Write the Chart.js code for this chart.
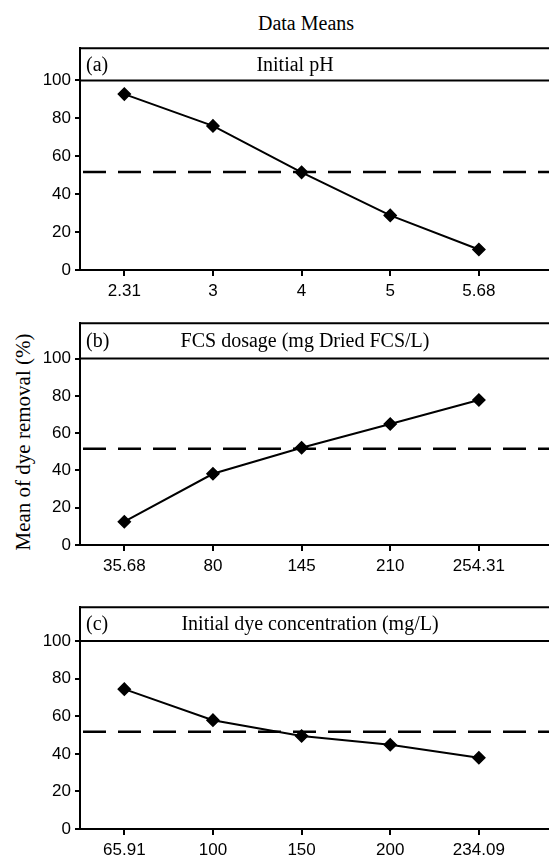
<!DOCTYPE html>
<html>
<head>
<meta charset="utf-8">
<script src="https://cdn.jsdelivr.net/npm/chart.js@4"></script>
<style>
  body { margin: 0; background: #fff; }
  #page { position: relative; width: 549px; height: 856px; overflow: hidden; background: #fff; }
  .panel { position: absolute; left: 0; }
  .serif { position: absolute; font-family: "Liberation Serif", "Times New Roman", serif; color: #000; white-space: nowrap; }
  #mainTitle { left: 306px; top: 23px; font-size: 20px; transform: translate(-50%, -50%); }
  #yTitle { left: 23px; top: 442px; font-size: 21px; transform: translate(-50%, -50%) rotate(-90deg); }
</style>
</head>
<body>
<div id="page">
  <div id="mainTitle" class="serif">Data Means</div>
  <div id="yTitle" class="serif">Mean of dye removal (%)</div>
  <div class="panel" style="top:34px"><canvas id="chartA" width="575" height="276"></canvas></div>
  <div class="panel" style="top:309px"><canvas id="chartB" width="575" height="276"></canvas></div>
  <div class="panel" style="top:593px"><canvas id="chartC" width="575" height="276"></canvas></div>
</div>
<script>
// levels of each factor and the mean dye removal (%) at each level
const phLevels = ["2.31", "3", "4", "5", "5.68"];
const phMeans = [92.8, 76.0, 51.5, 28.8, 10.8];

const dosageLevels = ["35.68", "80", "145", "210", "254.31"];
const dosageMeans = [12.5, 38.2, 52.2, 64.9, 77.8];

const dyeLevels = ["65.91", "100", "150", "200", "234.09"];
const dyeMeans = [74.4, 57.9, 49.5, 44.8, 37.9];

const grandMean = 51.7;
const yTicks = [0, 20, 40, 60, 80, 100];

const tickFont = { family: "'Liberation Sans', Arial, sans-serif", size: 17 };
const serifFont = "20px 'Liberation Serif', 'Times New Roman', serif";

// header strip, solid line at 100 and dashed grand mean line
const panelDecor = {
  id: "panelDecor",
  beforeDatasetsDraw(chart, args, opts) {
    const { ctx, chartArea } = chart;
    const y = chart.scales.y;
    const ym = y.getPixelForValue(grandMean);
    ctx.save();
    ctx.strokeStyle = "#000";
    ctx.lineWidth = 2.5;
    ctx.setLineDash([23, 12]);
    ctx.lineDashOffset = -3;
    ctx.beginPath();
    ctx.moveTo(chartArea.left, ym);
    ctx.lineTo(chartArea.right, ym);
    ctx.stroke();
    ctx.restore();
  },
  afterDraw(chart, args, opts) {
    const { ctx, chartArea } = chart;
    const y100 = chart.scales.y.getPixelForValue(100);
    ctx.save();
    ctx.strokeStyle = "#000";
    ctx.lineWidth = 2;
    ctx.beginPath();
    ctx.moveTo(chartArea.left, y100);
    ctx.lineTo(chartArea.right, y100);
    ctx.moveTo(chartArea.left - 1, chartArea.top);
    ctx.lineTo(chartArea.right, chartArea.top);
    ctx.stroke();

    const mid = (chartArea.top + y100) / 2;
    ctx.fillStyle = "#000";
    ctx.font = serifFont;
    ctx.textBaseline = "middle";
    ctx.textAlign = "left";
    ctx.fillText(opts.letter, chartArea.left + 6, mid + 1);
    ctx.textAlign = "center";
    ctx.fillText(opts.title, opts.titleX, mid + 1);
    ctx.restore();
  }
};

function makePanel(id, letter, title, titleX, levels, means, yMax) {
  return new Chart(document.getElementById(id), {
    type: "line",
    data: {
      datasets: [{
        data: means.map((v, i) => ({ x: i, y: v })),
        borderColor: "#000",
        borderWidth: 2,
        pointStyle: "rectRot",
        pointRadius: 6,
        pointBackgroundColor: "#000",
        pointBorderColor: "#000",
        pointBorderWidth: 1.5,
        tension: 0
      }]
    },
    options: {
      responsive: false,
      animation: false,
      layout: { padding: { top: 10, left: 0, right: 0, bottom: 0 } },
      plugins: {
        legend: { display: false },
        tooltip: { enabled: false },
        panelDecor: { letter: letter, title: title, titleX: titleX }
      },
      scales: {
        x: {
          type: "linear",
          min: -0.5,
          max: 5.0,
          afterFit: (s) => { s.height = 40; },
          afterBuildTicks: (s) => { s.ticks = levels.map((_, i) => ({ value: i })); },
          ticks: {
            color: "#000",
            font: tickFont,
            padding: 5,
            maxRotation: 0,
            callback: (v) => levels[v]
          },
          grid: { drawOnChartArea: false, color: "#000", lineWidth: 2, tickLength: 6 },
          border: { display: true, color: "#000", width: 2 }
        },
        y: {
          min: 0,
          max: yMax,
          afterFit: (s) => { s.width = 80; },
          afterBuildTicks: (s) => { s.ticks = yTicks.map((v) => ({ value: v })); },
          ticks: { color: "#000", font: tickFont, padding: 4 },
          grid: { drawOnChartArea: false, color: "#000", lineWidth: 2, tickLength: 5 },
          border: { display: true, color: "#000", width: 2 }
        }
      }
    },
    plugins: [panelDecor]
  });
}

makePanel("chartA", "(a)", "Initial pH", 295, phLevels, phMeans, 117);
makePanel("chartB", "(b)", "FCS dosage (mg Dried FCS/L)", 305, dosageLevels, dosageMeans, 119);
makePanel("chartC", "(c)", "Initial dye concentration (mg/L)", 310, dyeLevels, dyeMeans, 118);
</script>
</body>
</html>
